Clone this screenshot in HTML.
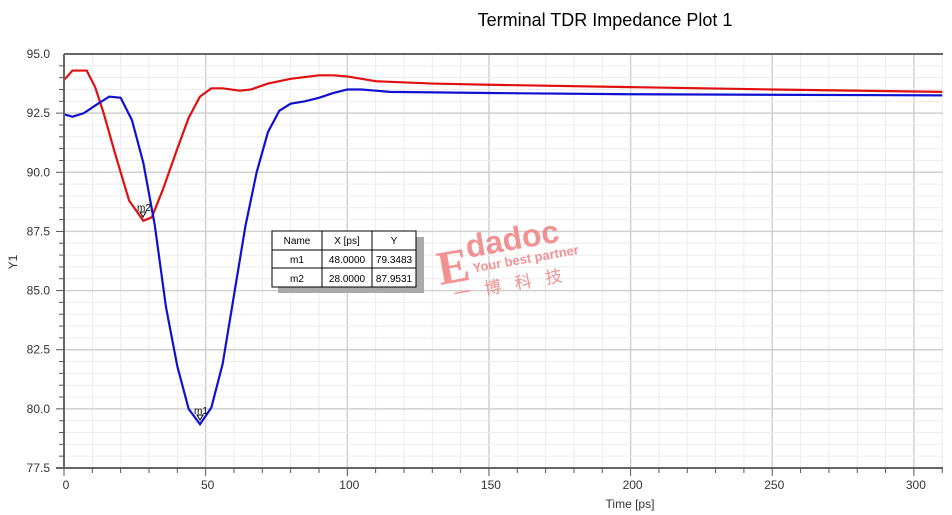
<!DOCTYPE html>
<html><head><meta charset="utf-8"><style>
body{margin:0;background:#fff;}
svg{display:block;font-family:"Liberation Sans",sans-serif;}
</style></head><body>
<svg width="952" height="515" xmlns="http://www.w3.org/2000/svg">
<rect width="952" height="515" fill="#fff"/>
<text x="605" y="26" font-size="18" text-anchor="middle" fill="#000">Terminal TDR Impedance Plot 1</text>
<g id="grid"></g>
<g transform="translate(64,54) scale(2.833,-23.657) translate(0,-95)" fill="none" stroke-width="2.2">
<polyline vector-effect="non-scaling-stroke" stroke="#e01010" points="0,93.9 3,94.3 8,94.3 11,93.6 14,92.5 18,90.8 23,88.8 28,87.95 31,88.1 35,89.3 40,91.0 44,92.3 48,93.2 52,93.55 56,93.55 62,93.45 66,93.5 72,93.75 80,93.95 90,94.1 95,94.1 100,94.05 110,93.85 130,93.75 150,93.7 200,93.6 250,93.5 310,93.4"/>
<polyline vector-effect="non-scaling-stroke" stroke="#1010d0" points="0,92.45 3,92.35 7,92.5 12,92.9 16,93.2 20,93.15 24,92.2 28,90.4 32,87.8 36,84.3 40,81.8 44,80.0 48,79.35 52,80.05 56,81.9 60,84.8 64,87.7 68,90.0 72,91.7 76,92.6 80,92.9 85,93.0 90,93.15 95,93.35 100,93.5 105,93.5 115,93.4 150,93.35 200,93.3 310,93.25"/>
</g>
<text x="137" y="211" font-size="10">m2</text>
<path d="M140,212 l6,0 l-3,5 z" fill="none" stroke="#000" stroke-width="1"/>
<text x="194" y="414" font-size="10">m1</text>
<path d="M197,415 l6,0 l-3,5 z" fill="none" stroke="#000" stroke-width="1"/>
<line x1="64" y1="54" x2="943" y2="54" stroke="#666" stroke-width="2"/>
<line x1="64" y1="54" x2="64" y2="468" stroke="#666" stroke-width="2"/>
<line x1="56" y1="468" x2="943" y2="468" stroke="#666" stroke-width="2"/>
<g id="ticks" stroke="#555" stroke-width="1"></g>
<g font-size="12" fill="#333" text-anchor="end" id="ylab"></g>
<g font-size="12" fill="#333" text-anchor="middle" id="xlab"></g>
<text transform="translate(17,262) rotate(-90)" font-size="12" text-anchor="middle" fill="#333">Y1</text>
<text x="630" y="508" font-size="12" text-anchor="middle" fill="#333">Time [ps]</text>
<rect x="278" y="237" width="146" height="56" fill="#aaa"/>
<rect x="272" y="231" width="144" height="56" fill="#fff" stroke="#000" stroke-width="1"/>
<g stroke="#000" stroke-width="1">
<line x1="272" y1="250" x2="416" y2="250"/><line x1="272" y1="268" x2="416" y2="268"/>
<line x1="322" y1="231" x2="322" y2="287"/><line x1="372" y1="231" x2="372" y2="287"/>
</g>
<g font-size="10" text-anchor="middle" fill="#000">
<text x="297" y="244">Name</text><text x="347" y="244">X [ps]</text><text x="394" y="244">Y</text>
<text x="297" y="263">m1</text><text x="347" y="263">48.0000</text><text x="394" y="263">79.3483</text>
<text x="297" y="282">m2</text><text x="347" y="282">28.0000</text><text x="394" y="282">87.9531</text>
</g>
<g fill="#f08080" opacity="0.85">
<text x="436" y="282" font-size="48" font-family="Liberation Serif,serif" font-weight="bold" transform="rotate(-10 455 260)">E</text>
<text x="465" y="252" font-size="32" font-weight="bold" transform="rotate(-10 500 240)">dadoc</text>
<text x="472" y="266" font-size="13" font-weight="bold" transform="rotate(-10 510 260)">Your best partner</text>
<text x="452" y="292" font-size="17" font-family="Noto Sans CJK SC,sans-serif" transform="rotate(-10 500 280)" letter-spacing="14">一博科技</text>
</g>
<script>
var ns="http://www.w3.org/2000/svg";
function el(p,t,a,txt){var e=document.createElementNS(ns,t);for(var k in a)e.setAttribute(k,a[k]);if(txt)e.textContent=txt;document.getElementById(p).appendChild(e);}
var X=function(v){return 64+v*2.833},Y=function(v){return 54+(95-v)*23.657};
for(var t=10;t<=310;t+=10){el("grid","line",{x1:X(t),x2:X(t),y1:54,y2:468,stroke:t%50==0?"#d0d0d0":"#ececec","stroke-width":t%50==0?1.5:1});
el("ticks","line",{x1:X(t),x2:X(t),y1:468,y2:t%50==0?476:473});}
el("ticks","line",{x1:64,x2:64,y1:468,y2:476});
for(var i=1;i<35;i++){var v=95-i*0.5;var maj=i%5==0;
el("grid","line",{x1:64,x2:943,y1:Y(v),y2:Y(v),stroke:maj?"#d0d0d0":"#ececec","stroke-width":maj?1.5:1});
el("ticks","line",{x1:maj?56:59,x2:64,y1:Y(v),y2:Y(v)});}
for(var v=95;v>=77.5;v-=2.5){el("ylab","text",{x:50,y:Y(v)+4},v.toFixed(1));}
for(var t=0;t<=300;t+=50){el("xlab","text",{x:X(t)+2,y:489},""+t);}
</script>
</svg>
</body></html>
